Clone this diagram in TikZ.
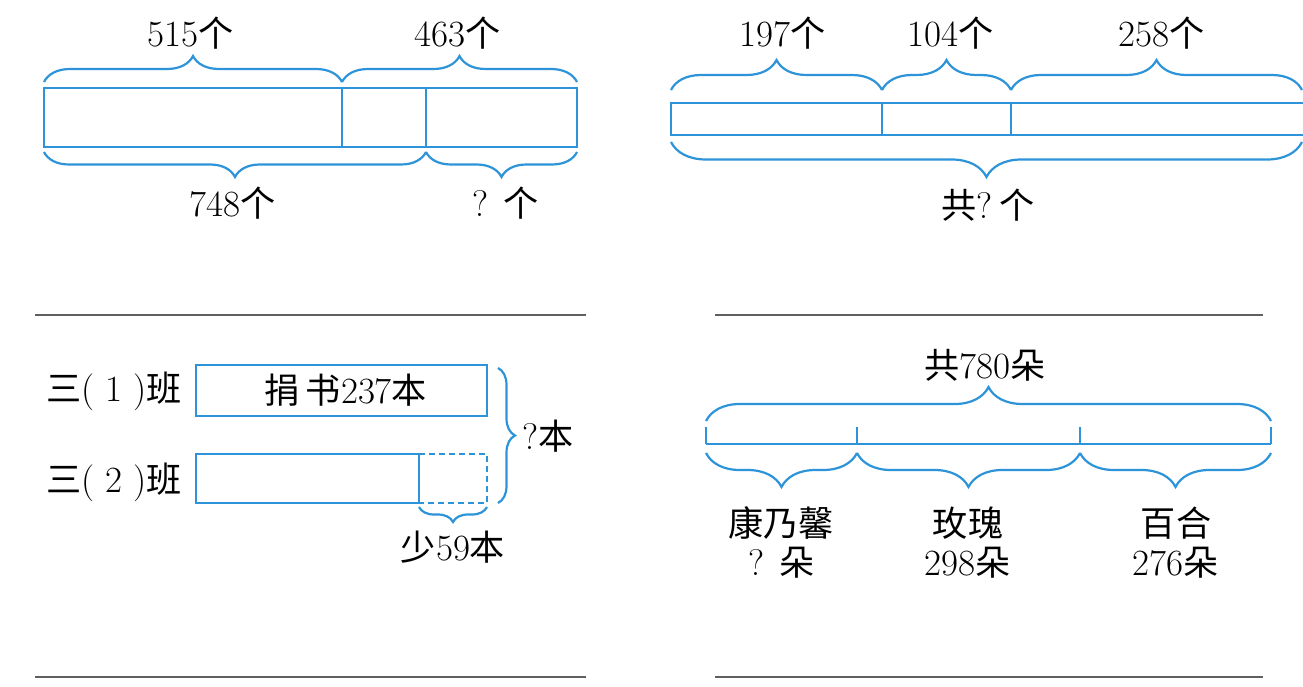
\documentclass[tikz,border=0pt]{standalone}
\usepackage{fontspec}
\newfontfamily\cjk{Noto Sans CJK SC}[Scale=0.95]
\usetikzlibrary{decorations.pathreplacing}
\definecolor{barblue}{RGB}{45,148,218}
\definecolor{rulegray}{RGB}{95,95,95}

\begin{document}
\begin{tikzpicture}[
    x={(1pt,0)}, y={(0,-1pt)},
    font=\fontsize{37}{42}\selectfont,
    bar/.style={barblue, line width=2.2pt},
    brc/.style={barblue, line width=2.2pt, decorate, decoration={brace, amplitude=#1}},
    brc/.default=26pt,
    lbl/.style={inner sep=0pt},
    rulel/.style={rulegray, line width=2pt}
  ]

    \fill[white] (0,0) rectangle (1303,687);
    \useasboundingbox (0,0) rectangle (1303,687);

    % --- PANEL 1 ---
    \draw[bar] (44,88) rectangle (577,147);
    \draw[bar] (342,88) -- (342,147);
    \draw[bar] (426,88) -- (426,147);
    \draw[brc=26pt] (44,82) -- (342,82);
    \draw[brc=26pt] (342,82) -- (577,82);
    \draw[brc=25pt] (426,152) -- (44,152);
    \draw[brc=25pt] (577,152) -- (426,152);
    \node[lbl] (n515) at (191,33) {515{\cjk 个}};
    \node[lbl] (n463) at (458,33) {463{\cjk 个}};
    \node[lbl] (n748) at (233,203) {748{\cjk 个}};
    \node[lbl] (qa) at (506,203) {? {\cjk 个}};

    % --- PANEL 2 ---
    \draw[bar] (1305,103) -- (671,103) -- (671,135) -- (1305,135);
    \draw[bar] (882,103) -- (882,135);
    \draw[bar] (1011,103) -- (1011,135);
    \draw[brc=30pt] (671,90) -- (882,90);
    \draw[brc=30pt] (882,90) -- (1011,90);
    \draw[brc=30pt] (1011,90) -- (1302,90);
    \draw[brc=35pt] (1302,142) -- (671,142);
    \node[lbl] (n197) at (783,33) {197{\cjk 个}};
    \node[lbl] (n104) at (951,33) {104{\cjk 个}};
    \node[lbl] (n258) at (1162,33) {258{\cjk 个}};
    \node[lbl] (qb) at (988,205) {{\cjk 共}?\,{\cjk 个}};

    % --- PANEL 3 ---
    \node[lbl] (cls1) at (114,391) {{\cjk 三}( 1 ){\cjk 班}};
    \node[lbl] (cls2) at (114,482) {{\cjk 三}( 2 ){\cjk 班}};
    \node[draw=barblue, line width=2.2pt, inner sep=0pt, minimum width=291pt,
          minimum height=51pt] (box1) at (341.5,390.5) {\hspace{9pt}{\cjk 捐\,书}237{\cjk 本}};
    \draw[bar] (419,454) -- (196,454) -- (196,503) -- (419,503) -- cycle;
    \draw[barblue, line width=1.3pt, dash pattern=on 6pt off 4pt]
          (419,454) -- (487,454) -- (487,503) -- (419,503);
    \draw[brc=17pt] (498,368) -- (498,503);
    \draw[brc=15pt] (487,507) -- (419,507);
    \node[lbl] (qc) at (548,436) {?{\cjk 本}};
    \node[lbl] (n59) at (453,547) {{\cjk 少}59{\cjk 本}};

    % --- PANEL 4 ---
    \draw[bar] (706,444) -- (1271,444);
    \foreach \x in {706,857,1080,1271} {
        \draw[bar] (\x,427) -- (\x,444);
    }
    \draw[brc=34pt] (706,421) -- (1271,421);
    \draw[brc=34pt] (857,453) -- (706,453);
    \draw[brc=34pt] (1080,453) -- (857,453);
    \draw[brc=34pt] (1271,453) -- (1080,453);
    \node[lbl] (n780) at (985,365) {{\cjk 共}780{\cjk 朵}};
    \node[lbl] (kang) at (781,523) {\cjk 康乃馨};
    \node[lbl] (qd) at (782,563) {? {\cjk 朵}};
    \node[lbl] (mei) at (968,523) {\cjk 玫瑰};
    \node[lbl] (n298) at (968,563) {298{\cjk 朵}};
    \node[lbl] (bai) at (1176,523) {\cjk 百合};
    \node[lbl] (n276) at (1176,563) {276{\cjk 朵}};

    % --- ANSWER LINES ---
    \foreach \y in {315,677} {
        \draw[rulel] (35,\y) -- (586,\y);
        \draw[rulel] (715,\y) -- (1263,\y);
    }

\end{tikzpicture}
\end{document}
